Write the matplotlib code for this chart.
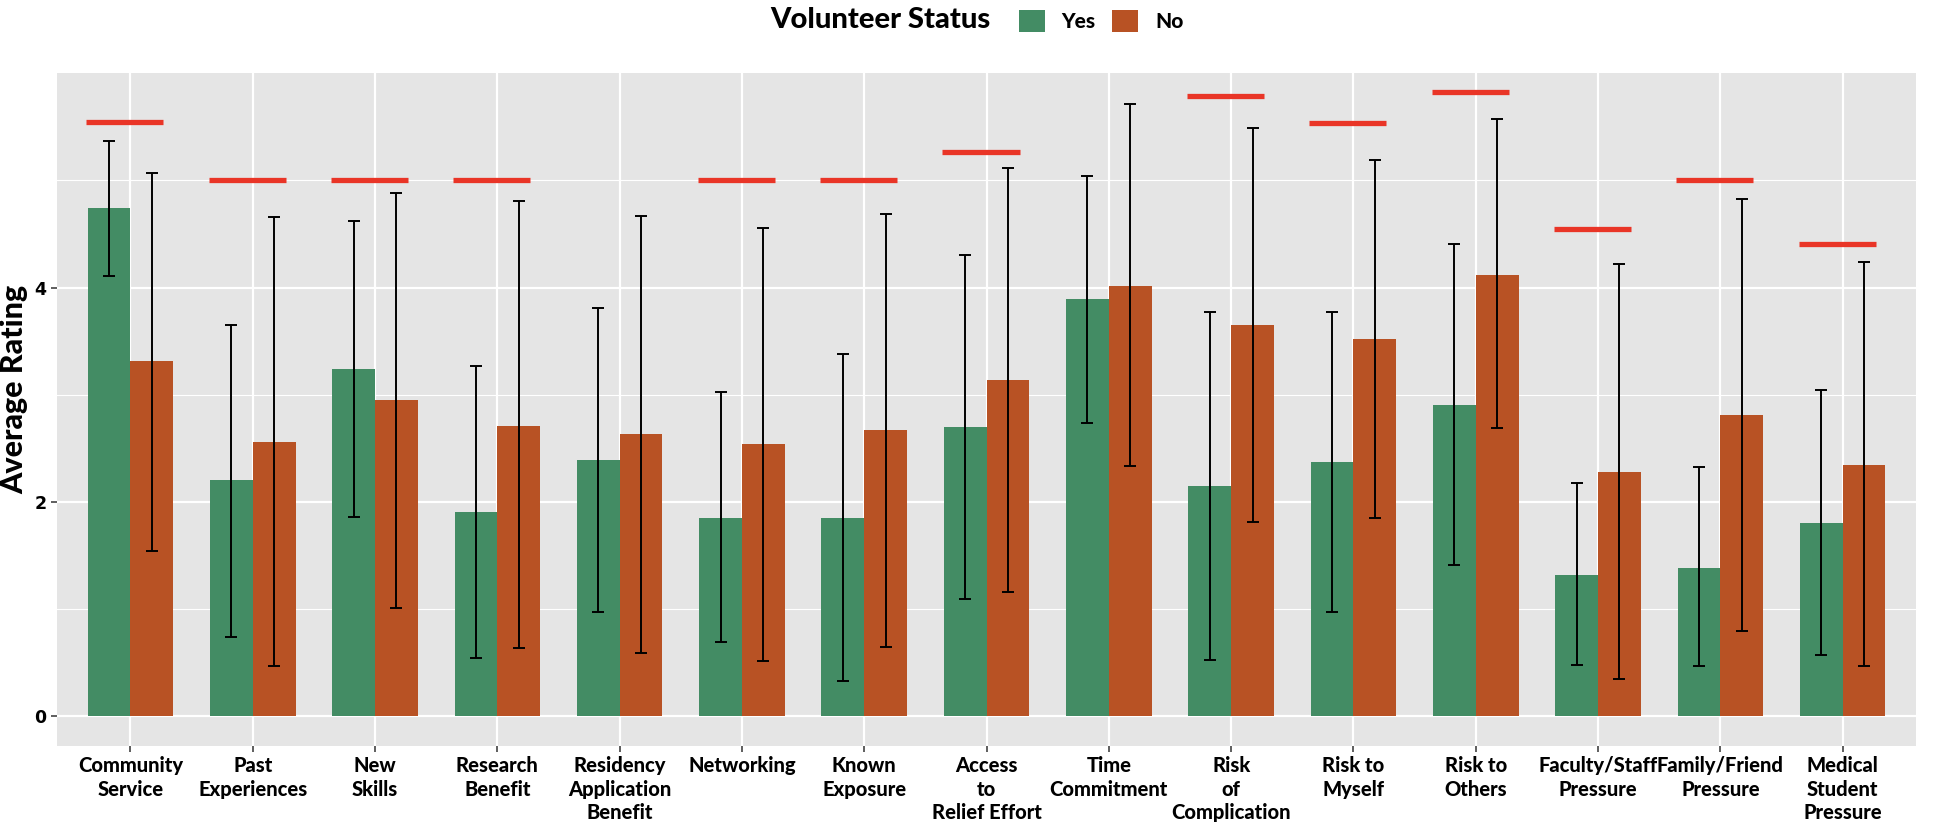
import numpy as np
import matplotlib.pyplot as plt
from matplotlib.patches import Patch

categories = [
    "Community\nService", "Past\nExperiences", "New\nSkills", "Research\nBenefit",
    "Residency\nApplication\nBenefit", "Networking", "Known\nExposure",
    "Access\nto\nRelief Effort", "Time\nCommitment", "Risk\nof\nComplication",
    "Risk to\nMyself", "Risk to\nOthers", "Faculty/Staff\nPressure",
    "Family/Friend\nPressure", "Medical\nStudent\nPressure",
]

yes_mean = [4.74, 2.20, 3.24, 1.90, 2.39, 1.85, 1.85, 2.70, 3.89, 2.15, 2.37, 2.90, 1.31, 1.38, 1.80]
yes_hi = [5.37, 3.65, 4.62, 3.27, 3.81, 3.02, 3.38, 4.30, 5.04, 3.77, 3.77, 4.41, 2.17, 2.32, 3.04]
yes_lo = [4.11, 0.74, 1.86, 0.54, 0.97, 0.69, 0.32, 1.09, 2.73, 0.52, 0.97, 1.41, 0.47, 0.46, 0.57]

no_mean = [3.31, 2.56, 2.95, 2.71, 2.63, 2.54, 2.67, 3.14, 4.01, 3.65, 3.52, 4.12, 2.28, 2.81, 2.34]
no_hi = [5.07, 4.66, 4.88, 4.81, 4.67, 4.56, 4.69, 5.12, 5.71, 5.49, 5.19, 5.57, 4.22, 4.83, 4.24]
no_lo = [1.54, 0.46, 1.01, 0.63, 0.59, 0.51, 0.64, 1.16, 2.33, 1.81, 1.85, 2.69, 0.34, 0.79, 0.46]

# red reference lines (none for Residency and Time Commitment)
red_level = [5.55, 5.00, 5.00, 5.00, np.nan, 5.00, 5.00, 5.27, np.nan, 5.79, 5.54, 5.83, 4.55, 5.00, 4.41]

green = "#438C64"
orange = "#B85224"
red = "#E93527"

label_font = ["Lato", "DejaVu Sans"]

fig = plt.figure(figsize=(19.46, 8.33), dpi=100)
ax = fig.add_axes([0.0293, 0.1044, 0.9553, 0.8075])
ax.set_facecolor("#E5E5E5")

x = np.arange(len(categories))
w = 0.35
yes_mean = np.array(yes_mean)
no_mean = np.array(no_mean)

ax.bar(x - w / 2, yes_mean, width=w, color=green, zorder=2)
ax.bar(x + w / 2, no_mean, width=w, color=orange, zorder=2)

ax.errorbar(x - w / 2, yes_mean,
            yerr=[yes_mean - np.array(yes_lo), np.array(yes_hi) - yes_mean],
            fmt="none", ecolor="black", elinewidth=1.4, capsize=4.6, capthick=1.4, zorder=3)
ax.errorbar(x + w / 2, no_mean,
            yerr=[no_mean - np.array(no_lo), np.array(no_hi) - no_mean],
            fmt="none", ecolor="black", elinewidth=1.4, capsize=4.6, capthick=1.4, zorder=3)

ax.hlines(red_level, x - 0.36, x + 0.27, colors=red, linewidth=3.8, zorder=3)

ax.set_xlim(-0.6, len(categories) - 0.4)
ax.set_ylim(-0.283, 6.0)
ax.set_yticks([0, 2, 4])
ax.set_yticks([1, 3, 5], minor=True)
ax.set_xticks(x)
ax.set_xticklabels(categories, fontsize=14.5, fontweight="black", family=label_font, linespacing=1.3)
for t in ax.get_yticklabels():
    t.set_fontweight("bold")
    t.set_fontsize(12.5)

ax.grid(True, which="major", color="white", linewidth=1.6, zorder=0)
ax.grid(True, which="minor", axis="y", color="white", linewidth=0.8, zorder=0)
ax.set_axisbelow(True)
for s in ax.spines.values():
    s.set_visible(False)
ax.tick_params(axis="both", which="major", length=4, color="#333333", width=1.1)
ax.tick_params(axis="x", pad=3)
ax.tick_params(axis="y", which="minor", length=0)

ax.set_ylabel("Average Rating", fontsize=22, fontweight="black", family=label_font)
ax.yaxis.set_label_coords(-0.0155, 0.53)

fig.text(880 / 1946, 1 - 20 / 833, "Volunteer Status", ha="center", va="center",
         fontsize=21, fontweight="black", family=label_font)
handles = [Patch(facecolor=green), Patch(facecolor=orange)]
leg = fig.legend(handles, ["Yes", "No"], loc="center left", bbox_to_anchor=(1000 / 1946, 1 - 21 / 833),
                 ncol=2, frameon=False, handlelength=1.25, handleheight=1.2, handletextpad=0.8,
                 columnspacing=0.8, prop={"family": label_font, "weight": "black", "size": 15})

fig.savefig("out.png", dpi=100)
